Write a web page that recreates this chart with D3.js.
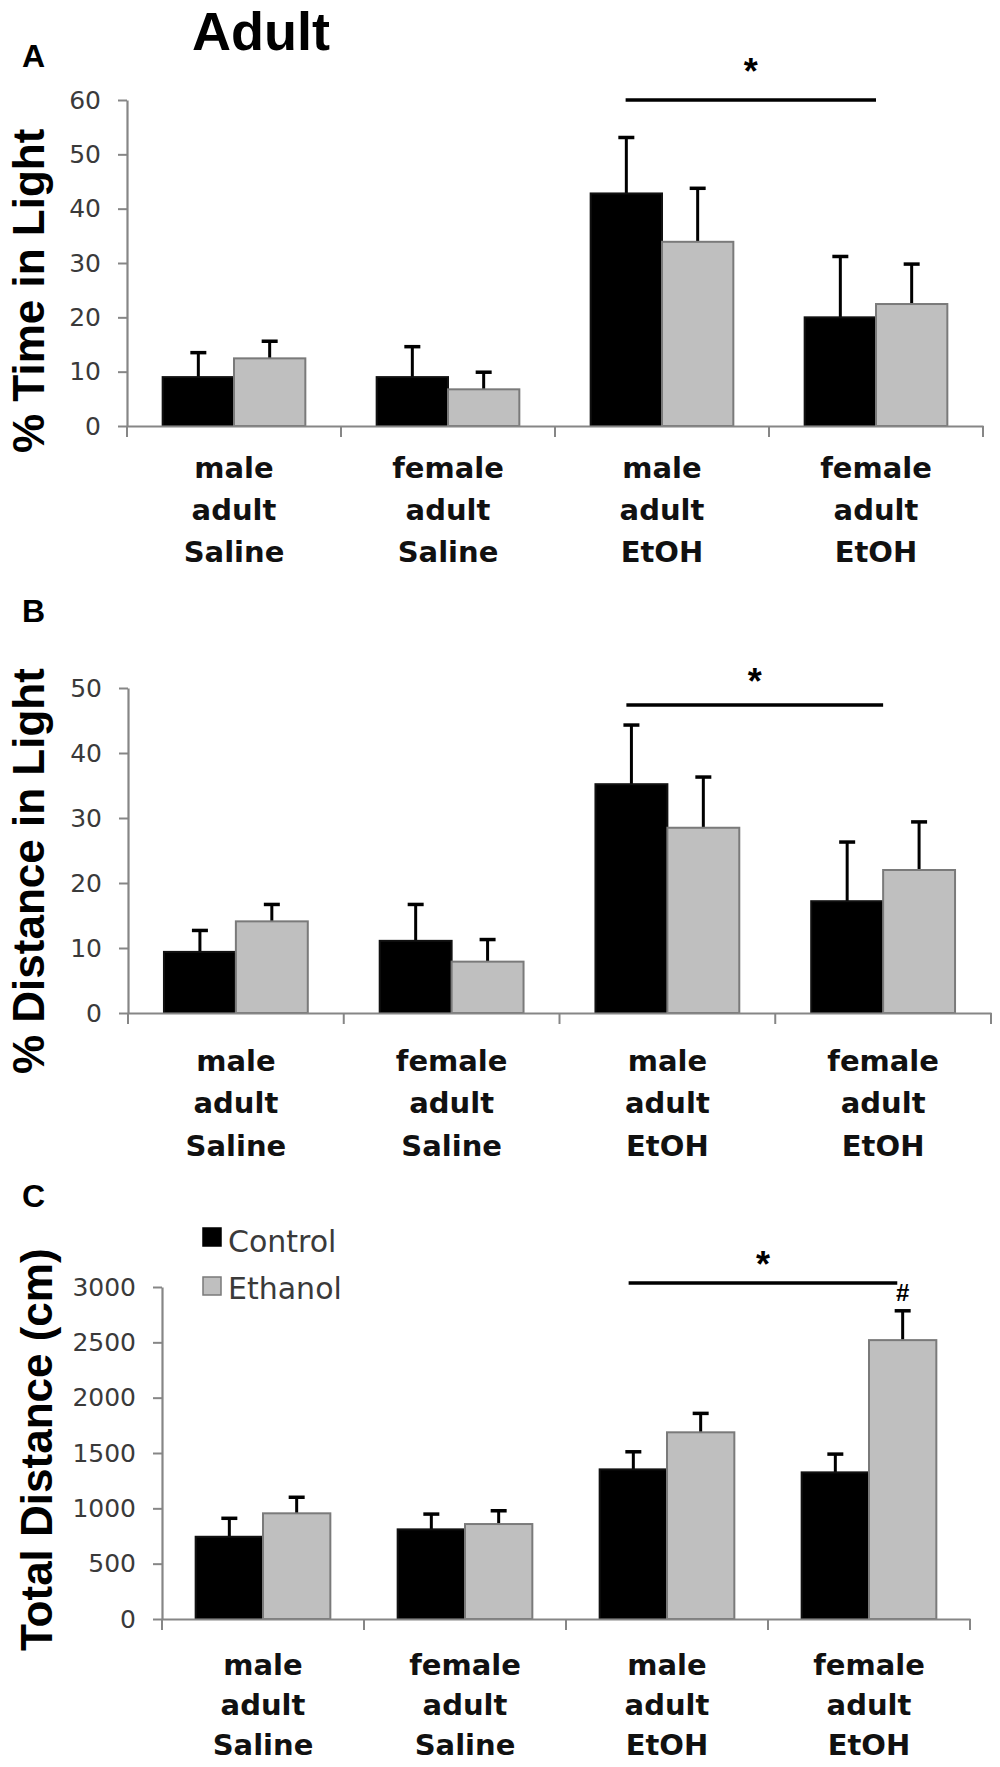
<!DOCTYPE html>
<html>
<head>
<meta charset="utf-8">
<script src="https://cdn.jsdelivr.net/npm/d3@7"></script>
<style>
    body { margin: 0; background: #fff; }
    svg { display: block; }
</style>
</head>
<body>
<svg class="chart"></svg>
<script>
(function () {
    // data
    const categories = ["male adult Saline", "female adult Saline", "male adult EtOH", "female adult EtOH"];
    const seriesNames = ["Control", "Ethanol"];

    const timeControl = [9.0, 9.0, 42.8, 20.0];
    const timeControlErr = [4.5, 5.6, 10.3, 11.2];
    const timeEthanol = [12.45, 6.75, 33.9, 22.45];
    const timeEthanolErr = [3.15, 3.15, 9.85, 7.35];
    const timeTicks = [0, 10, 20, 30, 40, 50, 60];

    const distControl = [9.4, 11.1, 35.2, 17.2];
    const distControlErr = [3.3, 5.6, 9.1, 9.1];
    const distEthanol = [14.1, 7.9, 28.5, 22.0];
    const distEthanolErr = [2.6, 3.4, 7.8, 7.4];
    const distTicks = [0, 10, 20, 30, 40, 50];

    const totalControl = [743, 810, 1352, 1325];
    const totalControlErr = [167, 138, 159, 165];
    const totalEthanol = [955, 858, 1687, 2520];
    const totalEthanolErr = [145, 120, 171, 265];
    const totalTicks = [0, 500, 1000, 1500, 2000, 2500, 3000];

    const sigLevels = [60, 47.4, 3036];
    const panelTitles = ["% Time in Light", "% Distance in Light", "Total Distance (cm)"];
    const panelLetters = ["A", "B", "C"];

    const width = 1000, height = 1767;
    const boldFont = "'Liberation Sans', Arial, sans-serif";
    const labelFont = "'DejaVu Sans', sans-serif";
    const axisGrey = "#868686";

    let svg = d3.select("svg.chart")
        .attr("width", width)
        .attr("height", height);

    svg.append("text")
        .attr("x", 192)
        .attr("y", 50)
        .style("font-family", boldFont)
        .style("font-weight", "bold")
        .style("font-size", "54px")
        .text("Adult");

    // layout of each panel (pixels only)
    const panels = [
        {
            control: timeControl, controlErr: timeControlErr, ethanol: timeEthanol, ethanolErr: timeEthanolErr,
            ticks: timeTicks, left: 127, right: 983, top: 100, bottom: 426,
            letterY: 67, titleX: 44, titleStart: 453, labelDy: [52, 94, 136],
            sigFrac: [0.33, 0.5], starDy: 16, legend: false, hash: false
        },
        {
            control: distControl, controlErr: distControlErr, ethanol: distEthanol, ethanolErr: distEthanolErr,
            ticks: distTicks, left: 128, right: 991, top: 688, bottom: 1013,
            letterY: 622, titleX: 44, titleStart: 1074, labelDy: [58, 100, 143],
            sigFrac: [0.31, 0.5], starDy: 11, legend: false, hash: false
        },
        {
            control: totalControl, controlErr: totalControlErr, ethanol: totalEthanol, ethanolErr: totalEthanolErr,
            ticks: totalTicks, left: 162, right: 970, top: 1287, bottom: 1619,
            letterY: 1207, titleX: 52, titleStart: 1651, labelDy: [56, 96, 136],
            sigFrac: [0.31, 0.64], starDy: 6, legend: true, hash: true
        }
    ];

    panels.forEach(function (p, i) { drawPanel(p, i); });

    function drawPanel(p, i) {
        let g = svg.append("g").attr("class", "panel");

        let x0 = d3.scaleBand().domain(categories).range([p.left, p.right]);
        let x1 = d3.scaleBand().domain(seriesNames).range([0, x0.bandwidth()]).paddingOuter(0.5);
        let y = d3.scaleLinear().domain([0, d3.max(p.ticks)]).range([p.bottom, p.top]);
        let color = d3.scaleOrdinal(seriesNames, ["#000000", "#bfbfbf"]);

        // panel letter
        g.append("text")
            .attr("x", 22)
            .attr("y", p.letterY)
            .style("font-family", boldFont)
            .style("font-weight", "bold")
            .style("font-size", "32px")
            .text(panelLetters[i]);

        // y axis title
        g.append("text")
            .attr("transform", "translate(" + p.titleX + "," + p.titleStart + ") rotate(-90)")
            .style("font-family", boldFont)
            .style("font-weight", "bold")
            .style("font-size", "44px")
            .text(panelTitles[i]);

        let rows = categories.map(function (c, k) {
            return {
                category: c,
                bars: [
                    { series: "Control", value: p.control[k], err: p.controlErr[k] },
                    { series: "Ethanol", value: p.ethanol[k], err: p.ethanolErr[k] }
                ]
            };
        });

        let groups = g.selectAll(".group")
            .data(rows)
            .enter().append("g")
            .attr("class", "group")
            .attr("transform", function (d) { return "translate(" + x0(d.category) + ",0)"; });

        let bars = groups.selectAll(".bar")
            .data(function (d) { return d.bars; })
            .enter();

        // error bars first, bars drawn over the stem base
        bars.append("line")
            .attr("x1", function (d) { return x1(d.series) + x1.bandwidth() / 2; })
            .attr("x2", function (d) { return x1(d.series) + x1.bandwidth() / 2; })
            .attr("y1", function (d) { return y(d.value); })
            .attr("y2", function (d) { return y(d.value + d.err); })
            .attr("stroke", "#000")
            .attr("stroke-width", 3);

        bars.append("line")
            .attr("x1", function (d) { return x1(d.series) + x1.bandwidth() / 2 - 8; })
            .attr("x2", function (d) { return x1(d.series) + x1.bandwidth() / 2 + 8; })
            .attr("y1", function (d) { return y(d.value + d.err); })
            .attr("y2", function (d) { return y(d.value + d.err); })
            .attr("stroke", "#000")
            .attr("stroke-width", 3.5);

        bars.append("rect")
            .attr("class", "bar")
            .attr("x", function (d) { return x1(d.series); })
            .attr("width", x1.bandwidth())
            .attr("y", function (d) { return y(d.value); })
            .attr("height", function (d) { return y(0) - y(d.value); })
            .attr("fill", function (d) { return color(d.series); })
            .attr("stroke", function (d) { return d.series === "Control" ? "#111" : "#7a7a7a"; })
            .attr("stroke-width", 2);

        // y axis
        let yAxis = g.append("g")
            .attr("transform", "translate(" + p.left + ",0)")
            .call(d3.axisLeft(y).tickValues(p.ticks).tickFormat(d3.format("d"))
                .tickSize(9).tickSizeOuter(0).tickPadding(17));

        // x axis with ticks on the group boundaries
        let xAxis = g.append("g")
            .attr("transform", "translate(0," + p.bottom + ")")
            .call(d3.axisBottom(x0).tickSize(0).tickSizeOuter(0).tickFormat(""));

        xAxis.selectAll(".boundary")
            .data(categories.concat(["end"]))
            .enter().append("line")
            .attr("class", "boundary")
            .attr("x1", function (d) { return d === "end" ? p.right : x0(d); })
            .attr("x2", function (d) { return d === "end" ? p.right : x0(d); })
            .attr("y1", 0)
            .attr("y2", 11);

        [yAxis, xAxis].forEach(function (ax) {
            ax.selectAll("path.domain").attr("stroke", axisGrey).attr("stroke-width", 2.2);
            ax.selectAll("line").attr("stroke", axisGrey).attr("stroke-width", 2);
        });

        yAxis.selectAll("text")
            .attr("fill", "#3a3a3a")
            .style("font-family", labelFont)
            .style("font-size", "25px");

        // category labels, three lines each
        let labels = g.selectAll(".cat-label")
            .data(categories)
            .enter().append("text")
            .attr("class", "cat-label")
            .attr("text-anchor", "middle")
            .style("font-family", labelFont)
            .style("font-weight", "bold")
            .style("font-size", "29px")
            .attr("fill", "#111");

        labels.selectAll("tspan")
            .data(function (d) {
                return d.split(" ").map(function (w) { return { word: w, cat: d }; });
            })
            .enter().append("tspan")
            .attr("x", function (d) { return x0(d.cat) + x0.bandwidth() / 2; })
            .attr("y", function (d, k) { return p.bottom + p.labelDy[k]; })
            .text(function (d) { return d.word; });

        // significance bar between the EtOH groups
        let sx1 = x0(categories[2]) + p.sigFrac[0] * x0.bandwidth();
        let sx2 = x0(categories[3]) + p.sigFrac[1] * x0.bandwidth();
        let sy = y(sigLevels[i]);

        g.append("line")
            .attr("x1", sx1)
            .attr("x2", sx2)
            .attr("y1", sy)
            .attr("y2", sy)
            .attr("stroke", "#000")
            .attr("stroke-width", 3.5);

        g.append("text")
            .attr("x", (sx1 + sx2) / 2)
            .attr("y", sy - p.starDy)
            .attr("text-anchor", "middle")
            .style("font-family", boldFont)
            .style("font-weight", "bold")
            .style("font-size", "36px")
            .text("*");

        if (p.hash) {
            let last = categories.length - 1;
            g.append("text")
                .attr("x", x0(categories[last]) + x1("Ethanol") + x1.bandwidth() / 2)
                .attr("y", y(p.ethanol[last] + p.ethanolErr[last]) - 10)
                .attr("text-anchor", "middle")
                .style("font-family", boldFont)
                .style("font-weight", "bold")
                .style("font-size", "24px")
                .text("#");
        }

        if (p.legend) {
            let legend = g.append("g")
                .attr("class", "legend")
                .attr("transform", "translate(203,1228)");

            legend.selectAll("rect")
                .data(seriesNames)
                .enter().append("rect")
                .attr("x", 0)
                .attr("y", function (d, k) { return k * 49; })
                .attr("width", 18)
                .attr("height", 18)
                .attr("fill", function (d) { return color(d); })
                .attr("stroke", function (d) { return d === "Control" ? "#000" : "#7a7a7a"; })
                .attr("stroke-width", 1.5);

            legend.selectAll("text")
                .data(seriesNames)
                .enter().append("text")
                .attr("x", 25)
                .attr("y", function (d, k) { return k * 47 + 24; })
                .attr("fill", "#3a3a3a")
                .style("font-family", labelFont)
                .style("font-size", "30px")
                .text(function (d) { return d; });
        }
    }
}());
</script>
</body>
</html>
